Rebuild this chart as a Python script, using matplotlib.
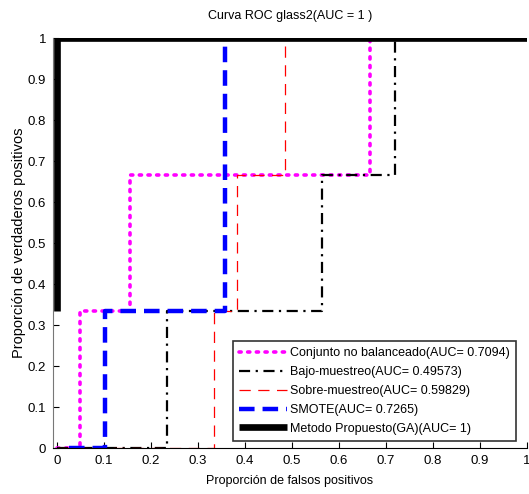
import matplotlib
matplotlib.use("Agg")
import matplotlib.pyplot as plt

title = "Curva ROC glass2(AUC = 1 )"
xlabel = "Proporción de falsos positivos"
ylabel = "Proporción de verdaderos positivos"

labels = [
    "Conjunto no balanceado(AUC= 0.7094)",
    "Bajo-muestreo(AUC= 0.49573)",
    "Sobre-muestreo(AUC= 0.59829)",
    "SMOTE(AUC= 0.7265)",
    "Metodo Propuesto(GA)(AUC= 1)",
]

fpr_nobal = [0, 0.05, 0.05, 0.155, 0.155, 0.667, 0.667, 1.0]
tpr_nobal = [0, 0, 0.333, 0.333, 0.667, 0.667, 1.0, 1.0]

fpr_bajo = [0, 0.235, 0.235, 0.563, 0.563, 0.72, 0.72, 1.0]
tpr_bajo = [0, 0, 0.333, 0.333, 0.667, 0.667, 1.0, 1.0]

fpr_sobre = [0, 0.333, 0.333, 0.382, 0.382, 0.485, 0.485, 1.0]
tpr_sobre = [0, 0, 0.333, 0.333, 0.667, 0.667, 1.0, 1.0]

fpr_smote = [0.025, 0.103, 0.103, 0.357, 0.357, 1.0]
tpr_smote = [0, 0, 0.333, 0.333, 1.0, 1.0]

fpr_ga = [0, 0, 1.0]
tpr_ga = [0.333, 1.0, 1.0]

ticks = [0, 0.1, 0.2, 0.3, 0.4, 0.5, 0.6, 0.7, 0.8, 0.9, 1]
ticklabels = ["0", "0.1", "0.2", "0.3", "0.4", "0.5", "0.6", "0.7", "0.8", "0.9", "1"]

plt.rcParams['font.family'] = ['Liberation Sans', 'DejaVu Sans']

fig = plt.figure(figsize=(5.29, 4.94), dpi=100)
ax = fig.add_axes([53/529, 46/494, (527-53)/529, (448-38)/494])

ax.plot(fpr_nobal, tpr_nobal, color='#ff00ff', linewidth=2.6,
        linestyle=(0, (0.6, 1.8)), dash_capstyle='round', label=labels[0])
ax.plot(fpr_bajo, tpr_bajo, color='black', linewidth=1.6,
        linestyle=(0, (5, 2.5, 1, 2.5)), label=labels[1])
ax.plot(fpr_sobre, tpr_sobre, color='red', linewidth=0.9,
        linestyle=(0, (9, 6)), label=labels[2])
ax.plot(fpr_smote, tpr_smote, color='blue', linewidth=3.2,
        linestyle=(0, (3.5, 1.8)), label=labels[3])
ax.plot(fpr_ga, tpr_ga, color='black', linewidth=4.8,
        solid_capstyle='butt', label=labels[4])

ax.set_xlim(-0.0085, 1.0)
ax.set_ylim(0, 1.0)
ax.set_xticks(ticks)
ax.set_xticklabels(ticklabels)
ax.set_yticks(ticks)
ax.set_yticklabels(ticklabels)
ax.tick_params(direction='in', length=4, width=0.8, labelsize=9.5, pad=5)

for s in ['top', 'right']:
    ax.spines[s].set_visible(False)
ax.spines['left'].set_color('#777777')
ax.spines['bottom'].set_color('black')

ax.set_title(title, fontsize=9, pad=14)
ax.set_xlabel(xlabel, fontsize=9, labelpad=6)
ax.set_ylabel(ylabel, fontsize=10.5, labelpad=1)

leg = ax.legend(loc='lower right', bbox_to_anchor=(516/529, (494-441)/494),
                bbox_transform=fig.transFigure, fontsize=9, frameon=True,
                fancybox=False, edgecolor='black', handlelength=3.8,
                handletextpad=0.25, borderpad=0.5, labelspacing=0.55,
                borderaxespad=0)
leg.get_frame().set_linewidth(1.2)

fig.savefig("out.png", dpi=100)
